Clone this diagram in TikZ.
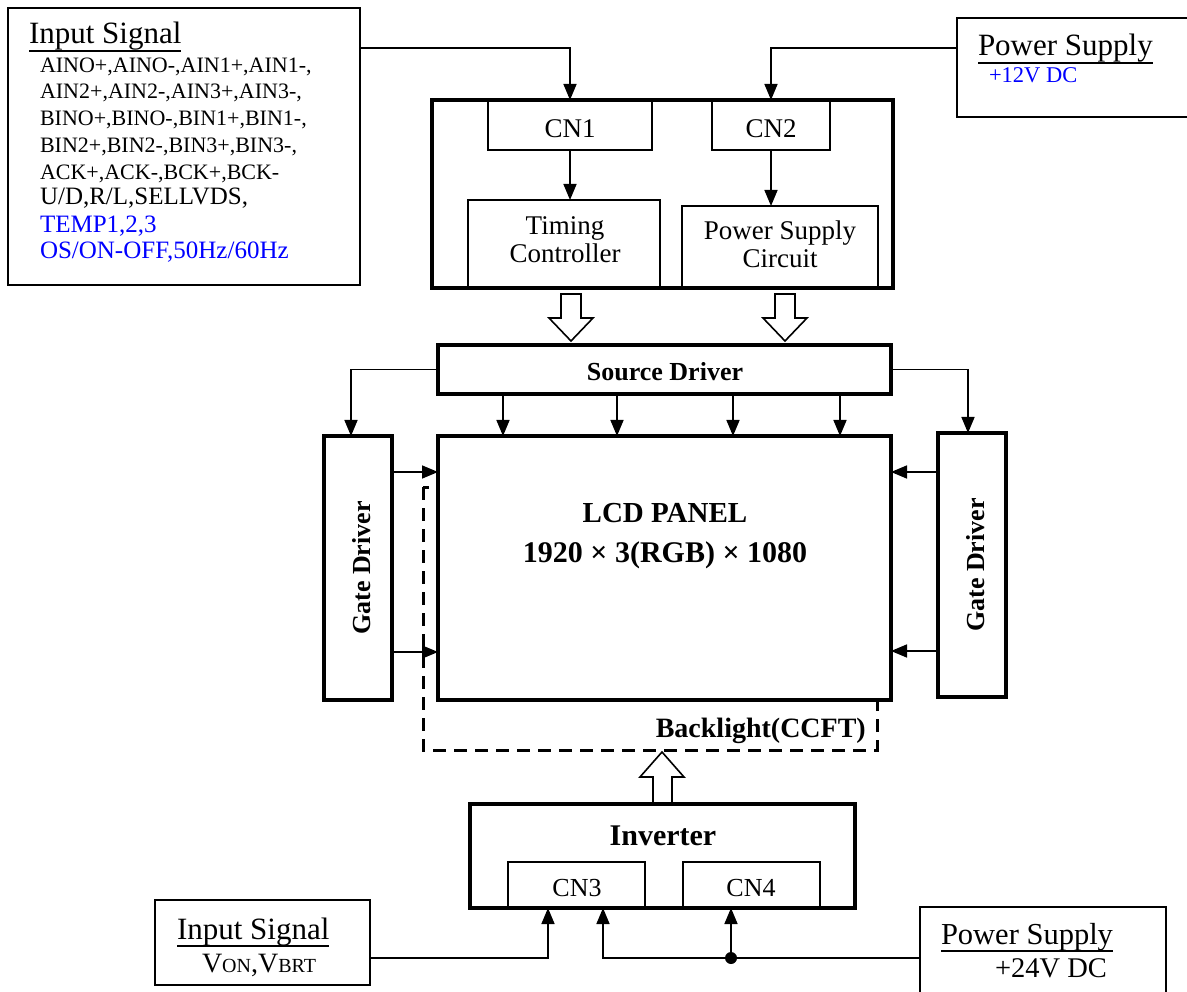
\documentclass[tikz,border=0pt]{standalone}
\usepackage{fontspec}
\setmainfont{Liberation Serif}
\usetikzlibrary{arrows.meta,calc}
\definecolor{sigblue}{RGB}{0,0,255}
\newcommand\undl[1]{\leavevmode\setbox0=\hbox{#1}\rlap{\rule[-8pt]{\wd0}{1.8pt}}\box0}
\newcommand\fs[2]{\fontsize{#1}{#2}\selectfont}
\begin{document}
\begin{tikzpicture}[x=1pt,y=-1pt,
  box/.style={draw,line width=1.8pt,inner sep=0pt,outer sep=0pt,fill=white},
  tbox/.style={draw,line width=3.8pt,inner sep=0pt,outer sep=0pt,fill=white},
  wire/.style={line width=1.6pt},
  arr/.style={wire,-{Triangle[length=16pt,width=13pt]}},
  lbl/.style={inner sep=0pt,outer sep=0pt,anchor=base west},
  clbl/.style={inner sep=0pt,outer sep=0pt,anchor=base},
  hollow/.style={draw,line width=1.6pt,fill=white,line join=miter},
  dashedbox/.style={line width=3pt,dash pattern=on 13pt off 8pt}
]
\useasboundingbox (0,0) rectangle (1187,992);

% ---------- top left input signal ----------
\node[box,minimum width=352pt,minimum height=277pt] (is1) at (184,146.5) {};
\node[lbl] (is1t) at (29,44) {\fs{31}{31}\undl{Input Signal}};
\node[lbl] (l1) at (40,73) {\fs{22}{26}AINO+,AINO-,AIN1+,AIN1-,};
\node[lbl] (l2) at (40,99) {\fs{22}{26}AIN2+,AIN2-,AIN3+,AIN3-,};
\node[lbl] (l3) at (40,126) {\fs{22}{26}BINO+,BINO-,BIN1+,BIN1-,};
\node[lbl] (l4) at (40,153) {\fs{22}{26}BIN2+,BIN2-,BIN3+,BIN3-,};
\node[lbl] (l5) at (40,180) {\fs{22}{26}ACK+,ACK-,BCK+,BCK-};
\node[lbl] (l6) at (40,205) {\fs{25}{26}U/D,R/L,SELLVDS,};
\node[lbl,text=sigblue] (l7) at (40,233) {\fs{25}{26}TEMP1,2,3};
\node[lbl,text=sigblue] (l8) at (40,259) {\fs{25}{26}OS/ON-OFF,50Hz/60Hz};

% ---------- top right power supply ----------
\node[box,minimum width=238pt,minimum height=99pt] (ps1) at (1076,67.5) {};
\node[lbl] (ps1t) at (978,56) {\fs{31}{31}\undl{Power Supply}};
\node[lbl,text=sigblue] (ps1v) at (989,83) {\fs{22.5}{26}+12V DC};

% ---------- control board ----------
\node[tbox,minimum width=461pt,minimum height=188pt] (board) at (662.5,194) {};
\node[box,minimum width=164pt,minimum height=50pt] (cn1) at (570,125) {};
\node[box,minimum width=118pt,minimum height=50pt] (cn2) at (771,125) {};
\node[clbl] at (570,138) {\fs{27}{28}CN1};
\node[clbl] at (771,138) {\fs{27}{28}CN2};
\node[box,minimum width=192pt,minimum height=87pt] (tc) at (564,243.5) {};
\node[box,minimum width=196pt,minimum height=81pt] (psc) at (780,246.5) {};
\node[clbl] at (565,235) {\fs{27}{28}Timing};
\node[clbl] at (565,263) {\fs{27}{28}Controller};
\node[clbl] at (780,240) {\fs{27}{28}Power Supply};
\node[clbl] at (780,268) {\fs{27}{28}Circuit};
% redraw board outline over inner boxes
\draw[line width=3.8pt] (board.north west) rectangle (board.south east);

\draw[arr] ([yshift=-40pt]is1.north east) -| (cn1.north);
\draw[arr] ([yshift=-30pt]ps1.north west) -| (cn2.north);
\draw[arr] (cn1.south) -- (cn1.south |- tc.north);
\draw[arr] (cn2.south) -- (cn2.south |- psc.north);

% hollow arrows board -> source driver
\draw[hollow] (561,294) -- (581,294) -- (581,318) -- (593,318) -- (571,341) -- (549,318) -- (561,318) -- cycle;
\draw[hollow] (775,294) -- (795,294) -- (795,318) -- (807,318) -- (785,341) -- (763,318) -- (775,318) -- cycle;

% ---------- source driver ----------
\node[tbox,minimum width=453pt,minimum height=49pt] (sd) at (664.5,369.5) {};
\node[clbl] at (665,381) {\fs{26}{28}\bfseries Source Driver};

% ---------- backlight (dashed) ----------
\draw[dashedbox] (423,487) rectangle (877,750);

% ---------- LCD panel ----------
\node[tbox,minimum width=453pt,minimum height=264pt] (lcd) at (664.5,568) {};
\node[clbl] at (665,522) {\fs{29}{30}\bfseries LCD PANEL};
\node[clbl] at (665,562) {\fs{30}{30}\bfseries 1920 × 3(RGB) × 1080};
\node[inner sep=0pt,anchor=base east] at (866,737) {\fs{28}{30}\bfseries Backlight(CCFT)};

% ---------- gate drivers ----------
\node[tbox,minimum width=68pt,minimum height=264pt] (gdl) at (358,568) {};
\node[tbox,minimum width=68pt,minimum height=264pt] (gdr) at (972,565) {};
\node[rotate=90,inner sep=0pt] at (362,568) {\fs{26}{28}\bfseries Gate Driver};
\node[rotate=90,inner sep=0pt] at (976,565) {\fs{26}{28}\bfseries Gate Driver};

% source driver connectors
\draw[arr] (sd.west) -| ([xshift=-7pt]gdl.north);
\draw[arr] (sd.east) -| ([xshift=-4pt]gdr.north);
\draw[arr] ([xshift=-161.5pt]sd.south) -- ([xshift=-161.5pt]lcd.north);
\draw[arr] ([xshift=-47.5pt]sd.south) -- ([xshift=-47.5pt]lcd.north);
\draw[arr] ([xshift=68.5pt]sd.south) -- ([xshift=68.5pt]lcd.north);
\draw[arr] ([xshift=175.5pt]sd.south) -- ([xshift=175.5pt]lcd.north);

% gate driver connectors
\draw[arr] ([yshift=96pt]gdl.east) -- ([yshift=96pt]gdl.east -| lcd.west);
\draw[arr] ([yshift=-84pt]gdl.east) -- ([yshift=-84pt]gdl.east -| lcd.west);
\draw[arr] ([yshift=93pt]gdr.west) -- ([yshift=93pt]gdr.west -| lcd.east);
\draw[arr] ([yshift=-86pt]gdr.west) -- ([yshift=-86pt]gdr.west -| lcd.east);

% hollow arrow inverter -> backlight
\draw[hollow] (653,803) -- (672,803) -- (672,777) -- (684,777) -- (662,752) -- (640,777) -- (653,777) -- cycle;

% ---------- inverter ----------
\node[tbox,minimum width=385pt,minimum height=104pt] (inv) at (662.5,856) {};
\node[clbl] at (663,845) {\fs{30}{30}\bfseries Inverter};
\node[box,minimum width=137pt,minimum height=46pt] (cn3) at (576.5,885) {};
\node[box,minimum width=137pt,minimum height=46pt] (cn4) at (751.5,885) {};
\node[clbl] at (577,896) {\fs{26}{26}CN3};
\node[clbl] at (751,896) {\fs{26}{26}CN4};
\draw[line width=3.8pt] (inv.north west) rectangle (inv.south east);

% ---------- bottom input signal ----------
\node[box,minimum width=215pt,minimum height=85pt] (is2) at (262.5,942.5) {};
\node[lbl] (is2t) at (177,939) {\fs{31}{31}\undl{Input Signal}};
\node[lbl] (is2v) at (202,972) {\fs{28}{28}V{\fs{20}{20}ON},V{\fs{20}{20}BRT}};

% ---------- bottom power supply ----------
\node[box,minimum width=246pt,minimum height=92pt] (ps2) at (1043,953) {};
\node[lbl] (ps2t) at (941,944) {\fs{30.5}{31}\undl{Power Supply}};
\node[lbl] (ps2v) at (995,977) {\fs{28.5}{28}+24V DC};

% bottom connectors
\coordinate (cn3a) at ([xshift=-28.5pt]cn3.south);
\coordinate (cn3b) at ([xshift=26.5pt]cn3.south);
\coordinate (cn4a) at ([xshift=-20.5pt]cn4.south);
\coordinate (is2out) at ([yshift=-15.5pt]is2.east);
\coordinate (ps2out) at ([yshift=-5pt]ps2.west);
\coordinate (jn) at (ps2out -| cn4a);
\draw[arr] (is2out) -| (cn3a);
\draw[arr] (ps2out) -| (cn3b);
\draw[arr] (jn) -- (cn4a);
\fill (jn) circle (6pt);
\end{tikzpicture}
\end{document}
